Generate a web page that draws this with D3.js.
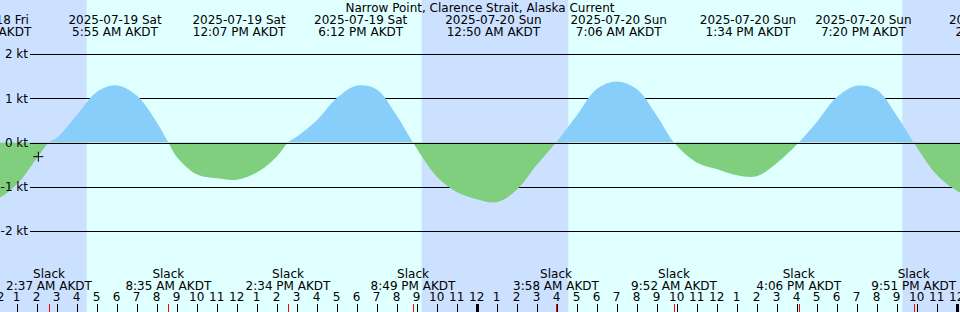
<!DOCTYPE html>
<html>
<head>
<meta charset="utf-8">
<script src="https://cdn.jsdelivr.net/npm/d3@7"></script>
<style>
  html, body { margin: 0; padding: 0; background: #fff; }
  svg { display: block; font-family: "DejaVu Sans", sans-serif; }
</style>
</head>
<body>
<div id="chart"></div>
<script>
// Chart data (times are local AKDT, kept as naive UTC values)
const title = "Narrow Point, Clarence Strait, Alaska Current";
const tz = "AKDT";

// Max flood / ebb events (labelled at the top)
const maxTimes = ["2025-07-18 23:25", "2025-07-19 05:55", "2025-07-19 12:07", "2025-07-19 18:12",
                  "2025-07-20 00:50", "2025-07-20 07:06", "2025-07-20 13:34", "2025-07-20 19:20",
                  "2025-07-21 02:05"];

// Slack water events
const slackTimes = ["2025-07-19 02:37", "2025-07-19 08:35", "2025-07-19 14:34", "2025-07-19 20:49",
                    "2025-07-20 03:58", "2025-07-20 09:52", "2025-07-20 16:06", "2025-07-20 21:51"];

// Hourly current speed (kt), starting 2025-07-18 23:00
const hourlyStart = "2025-07-18 23:00";
const hourlyValues = [
  -1.35, -1.28, -0.95, -0.36, 0.10, 0.61, 1.14, 1.29, 1.06, 0.46,
  -0.32, -0.72, -0.81, -0.84, -0.68, -0.32, 0.13, 0.50, 1.00, 1.28,
  1.20, 0.61, -0.17, -0.77, -1.12, -1.28, -1.35, -1.07, -0.51, 0.02,
  0.61, 1.21, 1.38, 1.21, 0.61, -0.06, -0.45, -0.60, -0.74, -0.76,
  -0.47, -0.06, 0.46, 1.02, 1.28, 1.19, 0.61, -0.10, -0.73, -1.09,
  -1.30
];

// Sunrise / sunset (night shading)
const sunrises = ["2025-07-19 04:30", "2025-07-20 04:35"];
const sunsets = ["2025-07-19 21:15", "2025-07-20 21:17"];

// "now" marker
const markTime = "2025-07-19 02:05";
const markValue = -0.32;

const yTicks = [2, 1, 0, -1, -2];

const width = 960;
const height = 312;

const parse = d3.utcParse("%Y-%m-%d %H:%M");
const fmtDate = d3.utcFormat("%Y-%m-%d %a");
const fmtTime = d => d3.utcFormat("%-I:%M %p")(d) + " " + tz;
const fmtHour = d3.utcFormat("%-I");

const x = d3.scaleUtc()
    .domain([parse("2025-07-19 00:10"), parse("2025-07-21 00:10")])
    .range([0, width]);

const y = d3.scaleLinear()
    .domain([-2, 2])
    .range([231, 54]);

// curve samples: hourly values plus the slack crossings
const t0 = parse(hourlyStart);
let samples = hourlyValues.map((v, i) => ({ t: d3.utcHour.offset(t0, i), v, slack: false }));
slackTimes.forEach(s => samples.push({ t: parse(s), v: 0, slack: true }));
samples.sort((a, b) => a.t - b.t);
// drop hourly samples that sit too close to a slack
samples = samples.filter((d, i, arr) => {
    if (d.slack) return true;
    const near = [arr[i - 1], arr[i + 1]].some(o => o && o.slack && Math.abs(o.t - d.t) < 12 * 60 * 1000);
    return !near;
});

const svg = d3.select("#chart").append("svg")
    .attr("width", width)
    .attr("height", height);

// day background
svg.append("rect")
    .attr("width", width)
    .attr("height", height)
    .attr("fill", "#e0ffff");

// night shading
const dStart = x.domain()[0], dEnd = x.domain()[1];
const nights = [];
let from = dStart;
sunrises.forEach((r, i) => {
    nights.push([from, parse(r)]);
    from = sunsets[i] ? parse(sunsets[i]) : dEnd;
});
nights.push([from, dEnd]);

svg.append("g")
    .selectAll("rect")
    .data(nights)
    .join("rect")
    .attr("x", d => x(d[0]))
    .attr("y", 0)
    .attr("width", d => x(d[1]) - x(d[0]))
    .attr("height", height)
    .attr("fill", "#cce0ff");

// grid lines (except datum)
svg.append("g")
    .selectAll("line")
    .data(yTicks.filter(d => d !== 0))
    .join("line")
    .attr("x1", 30)
    .attr("x2", width)
    .attr("y1", d => Math.round(y(d)) + 0.5)
    .attr("y2", d => Math.round(y(d)) + 0.5)
    .attr("stroke", "#000");

// current area, split at zero
const area = d3.area()
    .x(d => x(d.t))
    .y0(y(0))
    .y1(d => y(d.v))
    .curve(d3.curveCatmullRom.alpha(0.5));

const defs = svg.append("defs");
defs.append("clipPath").attr("id", "clip-flood")
    .append("rect").attr("x", 0).attr("y", 0).attr("width", width).attr("height", y(0));
defs.append("clipPath").attr("id", "clip-ebb")
    .append("rect").attr("x", 0).attr("y", y(0)).attr("width", width).attr("height", height - y(0));

svg.append("path")
    .datum(samples)
    .attr("d", area)
    .attr("fill", "#87cefa")
    .attr("clip-path", "url(#clip-flood)");

svg.append("path")
    .datum(samples)
    .attr("d", area)
    .attr("fill", "#7fcf7f")
    .attr("clip-path", "url(#clip-ebb)");

// datum line
svg.append("line")
    .attr("x1", 30)
    .attr("x2", width)
    .attr("y1", Math.round(y(0)) + 0.5)
    .attr("y2", Math.round(y(0)) + 0.5)
    .attr("stroke", "#000");

// y labels
svg.append("g")
    .selectAll("text")
    .data(yTicks)
    .join("text")
    .attr("x", 28)
    .attr("y", d => y(d))
    .attr("dy", "0.36em")
    .attr("text-anchor", "end")
    .attr("font-size", 12)
    .text(d => d + " kt");

// now marker
const mx = x(parse(markTime)), my = y(markValue);
svg.append("path")
    .attr("d", `M${mx - 5},${my}H${mx + 5}M${mx},${my - 5}V${my + 5}`)
    .attr("stroke", "#000")
    .attr("fill", "none");

// title
svg.append("text")
    .attr("x", width / 2)
    .attr("y", 12)
    .attr("text-anchor", "middle")
    .attr("font-size", 12)
    .text(title);

// max event labels at top
const maxLabels = svg.append("g")
    .selectAll("g")
    .data(maxTimes.map(parse))
    .join("g")
    .attr("transform", d => `translate(${x(d)},0)`)
    .attr("text-anchor", "middle")
    .attr("font-size", 12);
maxLabels.append("text").attr("y", 24).text(d => fmtDate(d));
maxLabels.append("text").attr("y", 36).text(d => fmtTime(d));

// slack labels at bottom
const slackLabels = svg.append("g")
    .selectAll("g")
    .data(slackTimes.map(parse))
    .join("g")
    .attr("transform", d => `translate(${x(d)},0)`)
    .attr("text-anchor", "middle")
    .attr("font-size", 12);
slackLabels.append("text").attr("y", 278).text("Slack");
slackLabels.append("text").attr("y", 290).text(d => fmtTime(d));

// hour ticks and labels
const hours = d3.utcHours(parse("2025-07-19 00:00"), parse("2025-07-21 01:00"));
svg.append("g")
    .selectAll("text")
    .data(hours)
    .join("text")
    .attr("x", d => x(d))
    .attr("y", 301)
    .attr("text-anchor", "middle")
    .attr("font-size", 12)
    .text(d => fmtHour(d));

svg.append("g")
    .selectAll("line")
    .data(hours)
    .join("line")
    .attr("x1", d => Math.round(x(d)) + 0.5)
    .attr("x2", d => Math.round(x(d)) + 0.5)
    .attr("y1", 304)
    .attr("y2", height)
    .attr("stroke", "#000")
    .attr("stroke-width", d => d.getUTCHours() === 0 ? 3 : 1);

svg.append("g")
    .selectAll("line")
    .data(slackTimes.map(parse))
    .join("line")
    .attr("x1", d => Math.round(x(d)) + 0.5)
    .attr("x2", d => Math.round(x(d)) + 0.5)
    .attr("y1", 304)
    .attr("y2", height)
    .attr("stroke", "#ff0000");
</script>
</body>
</html>
